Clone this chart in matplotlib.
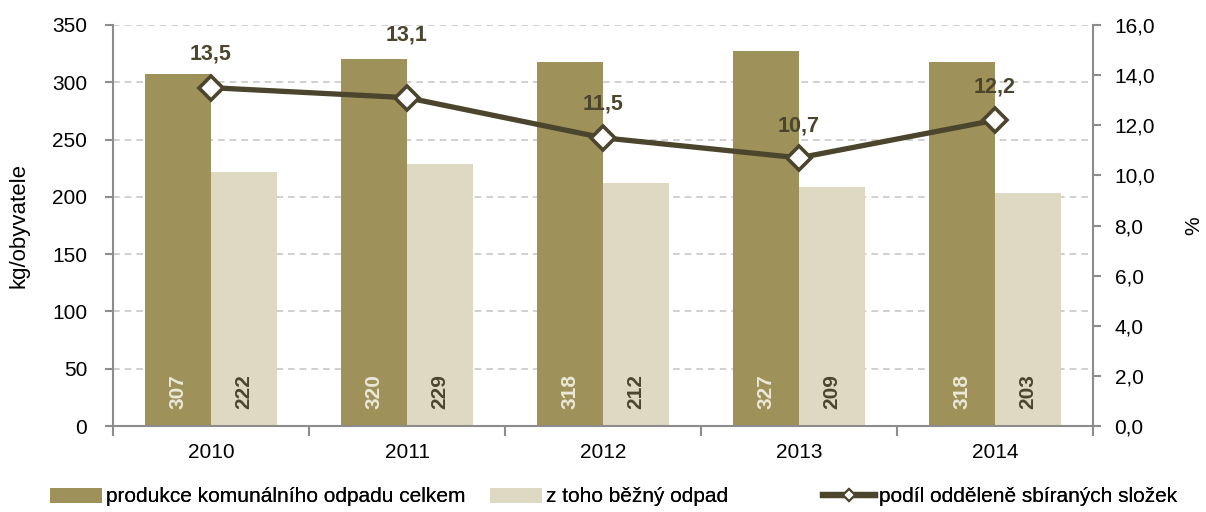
import matplotlib
matplotlib.use("Agg")
import matplotlib.pyplot as plt
import numpy as np
from matplotlib.lines import Line2D
from matplotlib.patches import Patch

years = ["2010", "2011", "2012", "2013", "2014"]
total = [307, 320, 318, 327, 318]
common = [222, 229, 212, 209, 203]
share = [13.5, 13.1, 11.5, 10.7, 12.2]
share_labels = ["13,5", "13,1", "11,5", "10,7", "12,2"]
label_offsets = [24, 45, 24, 23, 24]  # points above marker

c_dark = "#9E9159"
c_light = "#DED9C3"
c_line = "#4B452D"
c_axis = "#8C8C8C"
c_grid = "#C8C8C8"

plt.rcParams['font.family'] = ['Liberation Sans', 'DejaVu Sans']

fig = plt.figure(figsize=(12.06, 5.12), dpi=100)
ax = fig.add_axes([113/1206, 1-426/512, (1093-113)/1206, (426-25)/512])
ax2 = ax.twinx()

x = np.arange(len(years))
w = 0.337
ax.bar(x - w/2, total, width=w, color=c_dark, zorder=2)
ax.bar(x + w/2, common, width=w, color=c_light, zorder=2)

for xi, v in zip(x, total):
    ax.annotate(str(v), (xi - w/2, 0), xytext=(0, 12), textcoords="offset points",
                rotation=90, ha="center", va="bottom", fontsize=15, fontweight="bold",
                color="#ECE8D8", zorder=3)
for xi, v in zip(x, common):
    ax.annotate(str(v), (xi + w/2, 0), xytext=(0, 12), textcoords="offset points",
                rotation=90, ha="center", va="bottom", fontsize=15, fontweight="bold",
                color=c_line, zorder=3)

ax.set_xlim(-0.5, len(years) - 0.5)
ax.set_ylim(0, 350)
ax.set_yticks(np.arange(0, 351, 50))
ax.yaxis.grid(True, linestyle=(0, (4, 3)), color=c_grid, linewidth=1.2, zorder=0)
ax.set_axisbelow(True)
ax.set_xticks(x)
ax.set_xticklabels(years)
ax.set_xticks(np.arange(-0.5, len(years), 1), minor=True)
ax.tick_params(axis="x", which="major", length=0, labelsize=15, pad=12)
ax.tick_params(axis="x", which="minor", length=7, width=1.5, color=c_axis, direction="out")
ax.tick_params(axis="y", length=6, width=1.5, color=c_axis, labelsize=15, pad=12.5)
ax.set_ylabel("kg/obyvatele", fontsize=16, labelpad=16)

ax2.plot(x, share, color=c_line, linewidth=3.8, marker="D", markersize=12,
         markerfacecolor="white", markeredgecolor=c_line, markeredgewidth=2.6, zorder=5)
ax2.set_ylim(0, 16)
ax2.set_yticks(np.arange(0, 16.1, 2))
ax2.set_yticklabels([f"{v:.1f}".replace(".", ",") for v in np.arange(0, 16.1, 2)])
ax2.tick_params(axis="y", length=6, width=1.5, color=c_axis, labelsize=15, pad=9.5)
ax2.set_ylabel("%", fontsize=15, labelpad=21)
for xi, v, lab, off in zip(x, share, share_labels, label_offsets):
    ax2.annotate(lab, (xi, v), xytext=(0, off), textcoords="offset points",
                 ha="center", va="center", fontsize=15.5, fontweight="bold", color=c_line)

for a in (ax, ax2):
    a.spines["top"].set_visible(False)
    for s in ("left", "right", "bottom"):
        a.spines[s].set_color(c_axis)
        a.spines[s].set_linewidth(1.5)
ax.spines["right"].set_visible(False)
ax2.spines["left"].set_visible(False)
ax2.spines["bottom"].set_visible(False)

handles = [
    Patch(facecolor=c_dark, edgecolor="none"),
    Patch(facecolor=c_light, edgecolor="none"),
    Line2D([0], [0], color=c_line, linewidth=4.5, marker="D", markersize=6,
           markerfacecolor="white", markeredgecolor=c_line, markeredgewidth=1.5),
]
labels = ["produkce komunálního odpadu celkem", "z toho běžný odpad",
          "podíl odděleně sbíraných složek"]
legend_x = [50, 490, 823]
for h, lab, lx in zip(handles, labels, legend_x):
    leg = fig.legend([h], [lab], loc="center left", bbox_to_anchor=(lx/1206, 1 - 497/512),
                     frameon=False, fontsize=15, handlelength=2.5, handleheight=0.7,
                     handletextpad=0.2, borderpad=0, borderaxespad=0)
    fig.add_artist(leg)

fig.savefig("out.png", dpi=100)
